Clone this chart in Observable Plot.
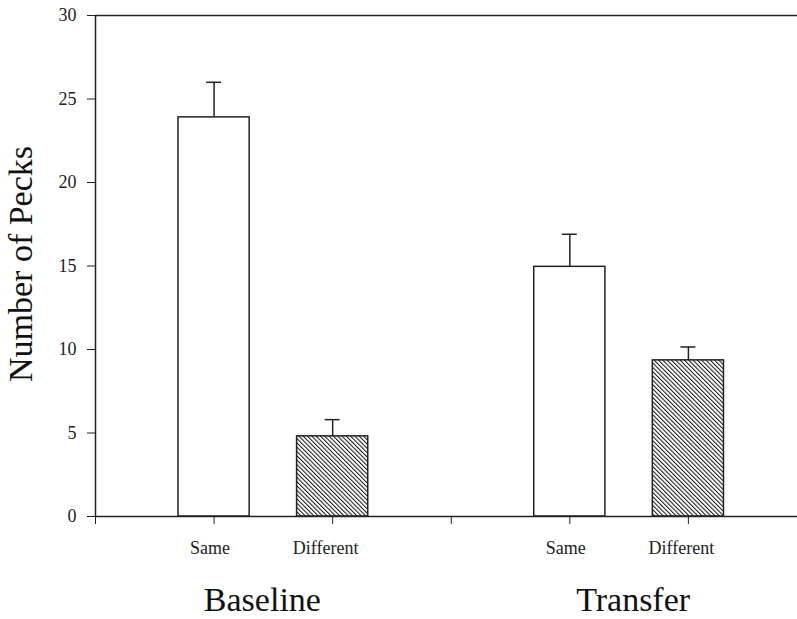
<!DOCTYPE html>
<html>
<head>
<meta charset="utf-8">
<script src="https://cdn.jsdelivr.net/npm/d3@7"></script>
<script src="https://cdn.jsdelivr.net/npm/@observablehq/plot@0.6"></script>
<style>
  html, body { margin: 0; padding: 0; background: #fff; }
  #chart svg, #chart svg text { font-family: "Liberation Serif", "Times New Roman", serif !important; }
</style>
</head>
<body>
<div id="chart"></div>
<script>
const groups = ["Baseline", "Baseline", "Transfer", "Transfer"];
const conditions = ["Same", "Different", "Same", "Different"];
const means = [23.9, 4.8, 14.95, 9.35];
const errors = [2.1, 1.0, 1.95, 0.8];
const groupNames = ["Baseline", "Transfer"];
const yTicks = [0, 5, 10, 15, 20, 25, 30];
const yLabel = "Number of Pecks";

const groupIndex = g => groupNames.indexOf(g);
const data = means.map((m, i) => {
  const pos = groupIndex(groups[i]) * 3 + (conditions[i] === "Same" ? 1 : 2);
  return {group: groups[i], condition: conditions[i], mean: m, err: errors[i], pos};
});
const groupData = groupNames.map((g, i) => ({group: g, pos: i * 3 + 1.5}));

const halfBar = 0.3;
const halfCap = 0.063;
const ink = "#222";
const serif = "Liberation Serif, Times New Roman, serif";

const plot = Plot.plot({
  width: 797,
  height: 619,
  marginLeft: 95,
  marginRight: 0,
  marginTop: 15,
  marginBottom: 103,
  style: {fontFamily: serif, fontSize: "18px", background: "#fff", color: ink, overflow: "visible"},
  x: {type: "linear", domain: [0, 5.92], axis: null},
  y: {domain: [0, 30], axis: null},
  marks: [
    Plot.axisY({ticks: yTicks, tickSize: 8, tickPadding: 11, label: null, fontSize: 18, fontFamily: serif, stroke: ink}),
    Plot.axisX({ticks: [0, 1, 2, 3, 4, 5], tickSize: 8, tickFormat: () => "", label: null, stroke: ink}),
    Plot.rectY(data.filter(d => d.condition === "Same"), {
      x1: d => d.pos - halfBar, x2: d => d.pos + halfBar, y: "mean",
      fill: "white", stroke: ink, strokeWidth: 1.5
    }),
    Plot.rectY(data.filter(d => d.condition === "Different"), {
      x1: d => d.pos - halfBar, x2: d => d.pos + halfBar, y: "mean",
      fill: "url(#hatch)", stroke: ink, strokeWidth: 1.5
    }),
    Plot.ruleX(data, {x: "pos", y1: "mean", y2: d => d.mean + d.err, stroke: ink, strokeWidth: 1.5}),
    Plot.ruleY(data, {y: d => d.mean + d.err, x1: d => d.pos - halfCap, x2: d => d.pos + halfCap, stroke: ink, strokeWidth: 1.5}),
    Plot.ruleX([0], {y1: 0, y2: 30, stroke: ink, strokeWidth: 1.5}),
    Plot.ruleY([0], {stroke: ink, strokeWidth: 1.5}),
    Plot.ruleY([30], {stroke: ink, strokeWidth: 1.5}),
    Plot.text(data.filter(d => d.condition === "Same"), {
      x: "pos", y: 0, text: "condition", lineAnchor: "bottom", dy: 37, dx: -4,
      fontSize: 18, fontFamily: serif, fill: ink, letterSpacing: 0.9
    }),
    Plot.text(data.filter(d => d.condition === "Different"), {
      x: "pos", y: 0, text: "condition", lineAnchor: "bottom", dy: 37, dx: -7,
      fontSize: 18, fontFamily: serif, fill: ink, letterSpacing: 0.9
    }),
    Plot.text(groupData.filter(d => d.group === "Baseline"), {
      x: "pos", y: 0, text: "group", lineAnchor: "bottom", dy: 94, dx: -11,
      fontSize: 34, fontFamily: serif, fill: "#111"
    }),
    Plot.text(groupData.filter(d => d.group === "Transfer"), {
      x: "pos", y: 0, text: "group", lineAnchor: "bottom", dy: 94, dx: 4,
      fontSize: 34, fontFamily: serif, fill: "#111"
    }),
    Plot.text([yLabel], {
      frameAnchor: "left", text: d => d, rotate: -90, dx: -74, dy: -2,
      textAnchor: "middle", fontSize: 34, fontFamily: serif, fill: "#111", lineAnchor: "middle"
    })
  ]
});

plot.insertAdjacentHTML("afterbegin",
  `<defs><pattern id="hatch" patternUnits="userSpaceOnUse" width="3.05" height="3.05" patternTransform="rotate(-45)">
     <rect width="3.05" height="3.05" fill="white"></rect>
     <line x1="0.5" y1="0" x2="0.5" y2="3.05" stroke="#111" stroke-width="1"></line>
   </pattern></defs>`);

document.getElementById("chart").appendChild(plot);
</script>
</body>
</html>
